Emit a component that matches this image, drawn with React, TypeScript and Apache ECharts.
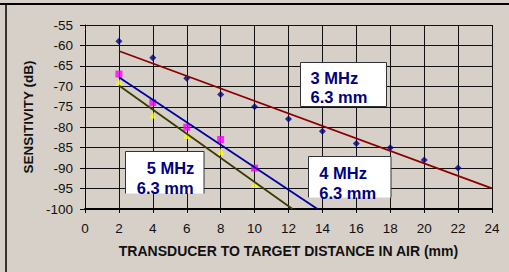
import React, { useEffect, useRef } from "react";
import * as echarts from "echarts";

const xTicks = [0, 24];
const yRange = [-100, -55];

const x3 = [2, 4, 6, 8, 10, 12, 14, 16, 18, 20, 22];
const y3 = [-59, -63, -68, -72, -75, -78, -81, -84, -85, -88, -90];

const x4 = [2, 4, 6, 8, 10];
const y4 = [-67, -74, -80, -83, -90];

const x5 = [2, 4, 6, 8, 10];
const y5 = [-69, -77, -82, -86, -94];

const labels = [
  { lines: ["3 MHz", "6.3 mm"] },
  { lines: ["4 MHz", "6.3 mm"] },
  { lines: ["5 MHz", "6.3 mm"] },
];

function linReg(xs: number[], ys: number[]) {
  const n = xs.length;
  const mx = xs.reduce((a, b) => a + b, 0) / n;
  const my = ys.reduce((a, b) => a + b, 0) / n;
  let sxy = 0;
  let sxx = 0;
  for (let i = 0; i < n; i++) {
    sxy += (xs[i] - mx) * (ys[i] - my);
    sxx += (xs[i] - mx) * (xs[i] - mx);
  }
  const slope = sxy / sxx;
  const icpt = my - slope * mx;
  return { slope, icpt, f: (x: number) => icpt + slope * x };
}

const FONT = "'Liberation Sans', Arial, sans-serif";

export default function App() {
  const ref = useRef<HTMLDivElement>(null);
  useEffect(() => {
    document.body.style.margin = "0";
    if (!ref.current) return;
    const chart = echarts.init(ref.current, undefined, { renderer: "svg" });

    const r3 = linReg(x3, y3);
    const r4 = linReg(x4, y4);
    const r5 = linReg(x5, y5);
    const yMin = yRange[0];
    const xEnd = (r: any) => (yMin - r.icpt) / r.slope;

    const trend3 = [
      [x3[0], r3.f(x3[0])],
      [xTicks[1], r3.f(xTicks[1])],
    ];
    const trend4 = [
      [x4[0], r4.f(x4[0])],
      [xEnd(r4), yMin],
    ];
    const trend5 = [
      [x5[0], r5.f(x5[0])],
      [xEnd(r5), yMin],
    ];

    const boxText = (lines: string[], x1: number, x2: number, yc1: number, yc2: number) => [
      {
        type: "text",
        x: x1,
        y: yc1,
        z: 101,
        style: {
          text: lines[0],
          fill: "#000080",
          font: `bold 16.5px ${FONT}`,
          verticalAlign: "middle",
          align: "left",
        },
      },
      {
        type: "text",
        x: x2,
        y: yc2,
        z: 101,
        style: {
          text: lines[1],
          fill: "#000080",
          font: `bold 16.5px ${FONT}`,
          verticalAlign: "middle",
          align: "left",
        },
      },
    ];

    const openBox = (x: number, y: number, w: number, h: number) => [
      {
        type: "rect",
        z: 100,
        shape: { x, y, width: w, height: h },
        style: { fill: "#ffffff" },
      },
      {
        type: "polyline",
        z: 100,
        shape: {
          points: [
            [x, y + h],
            [x, y],
            [x + w, y],
            [x + w, y + h],
          ],
        },
        style: { stroke: "#333333", lineWidth: 1, fill: null },
      },
    ];

    chart.setOption({
      animation: false,
      backgroundColor: "#d7d0c9",
      textStyle: { fontFamily: FONT },
      grid: { left: 85, top: 25, width: 407, height: 184, containLabel: false },
      xAxis: {
        type: "value",
        min: xTicks[0],
        max: xTicks[1],
        interval: 2,
        name: "TRANSDUCER TO TARGET DISTANCE IN AIR (mm)",
        nameLocation: "middle",
        nameGap: 35,
        nameTextStyle: { fontWeight: "bold", fontSize: 14, color: "#111", fontFamily: FONT },
        axisLine: { show: true, onZero: false, lineStyle: { color: "#000", width: 2 } },
        axisTick: { show: true, length: 4, lineStyle: { color: "#000", width: 1 } },
        axisLabel: { fontSize: 13.5, color: "#111", margin: 12, fontFamily: FONT },
        splitLine: { show: true, lineStyle: { color: "#111", width: 1 } },
      },
      yAxis: {
        type: "value",
        min: yRange[0],
        max: yRange[1],
        interval: 5,
        name: "SENSITIVITY (dB)",
        nameLocation: "middle",
        nameGap: 50,
        nameTextStyle: { fontWeight: "bold", fontSize: 13.5, color: "#111", fontFamily: FONT },
        axisLine: { show: true, onZero: false, lineStyle: { color: "#000", width: 1 } },
        axisTick: { show: true, length: 5, lineStyle: { color: "#000", width: 1 } },
        axisLabel: { fontSize: 13.5, color: "#111", margin: 12, fontFamily: FONT },
        splitLine: { show: true, lineStyle: { color: "#111", width: 1 } },
      },
      series: [
        {
          type: "scatter",
          name: "3 MHz",
          data: x3.map((x, i) => [x, y3[i]]),
          symbol: "diamond",
          symbolSize: [7, 7],
          itemStyle: { color: "#000080" },
          z: 3,
        },
        {
          type: "scatter",
          name: "4 MHz",
          data: x4.map((x, i) => [x, y4[i]]),
          symbol: "rect",
          symbolSize: 7,
          itemStyle: { color: "#ff00ff" },
          z: 3,
        },
        {
          type: "scatter",
          name: "5 MHz",
          data: x5.map((x, i) => [x, y5[i]]),
          symbol: "triangle",
          symbolSize: 7,
          itemStyle: { color: "#ffff00" },
          z: 3,
        },
        {
          type: "line",
          data: trend3,
          showSymbol: false,
          symbol: "none",
          lineStyle: { color: "#8b0000", width: 1.8 },
          z: 4,
        },
        {
          type: "line",
          data: trend4,
          showSymbol: false,
          symbol: "none",
          lineStyle: { color: "#0000a0", width: 1.8 },
          z: 4,
        },
        {
          type: "line",
          data: trend5,
          showSymbol: false,
          symbol: "none",
          lineStyle: { color: "#3a3a00", width: 1.8 },
          z: 4,
        },
      ],
      graphic: [
        {
          type: "line",
          z: 100,
          shape: { x1: 0, y1: 4, x2: 509, y2: 4 },
          style: { stroke: "#000", lineWidth: 2 },
        },
        {
          type: "line",
          z: 100,
          shape: { x1: 6, y1: 4, x2: 6, y2: 272 },
          style: { stroke: "#000", lineWidth: 1.5 },
        },
        {
          type: "rect",
          z: 100,
          shape: { x: 300.5, y: 62.5, width: 86, height: 44 },
          style: { fill: "#ffffff", stroke: "#333333", lineWidth: 1 },
        },
        ...boxText(labels[0].lines, 310.5, 310.5, 78, 97),
        ...openBox(308.5, 156.5, 82.5, 41),
        ...boxText(labels[1].lines, 319.3, 319.3, 173, 193),
        ...openBox(125.5, 151.5, 78.5, 42),
        ...boxText(labels[2].lines, 146.7, 136.7, 168, 188),
      ],
    });
    return () => chart.dispose();
  }, []);
  return <div ref={ref} style={{ width: 509, height: 272 }} />;
}
